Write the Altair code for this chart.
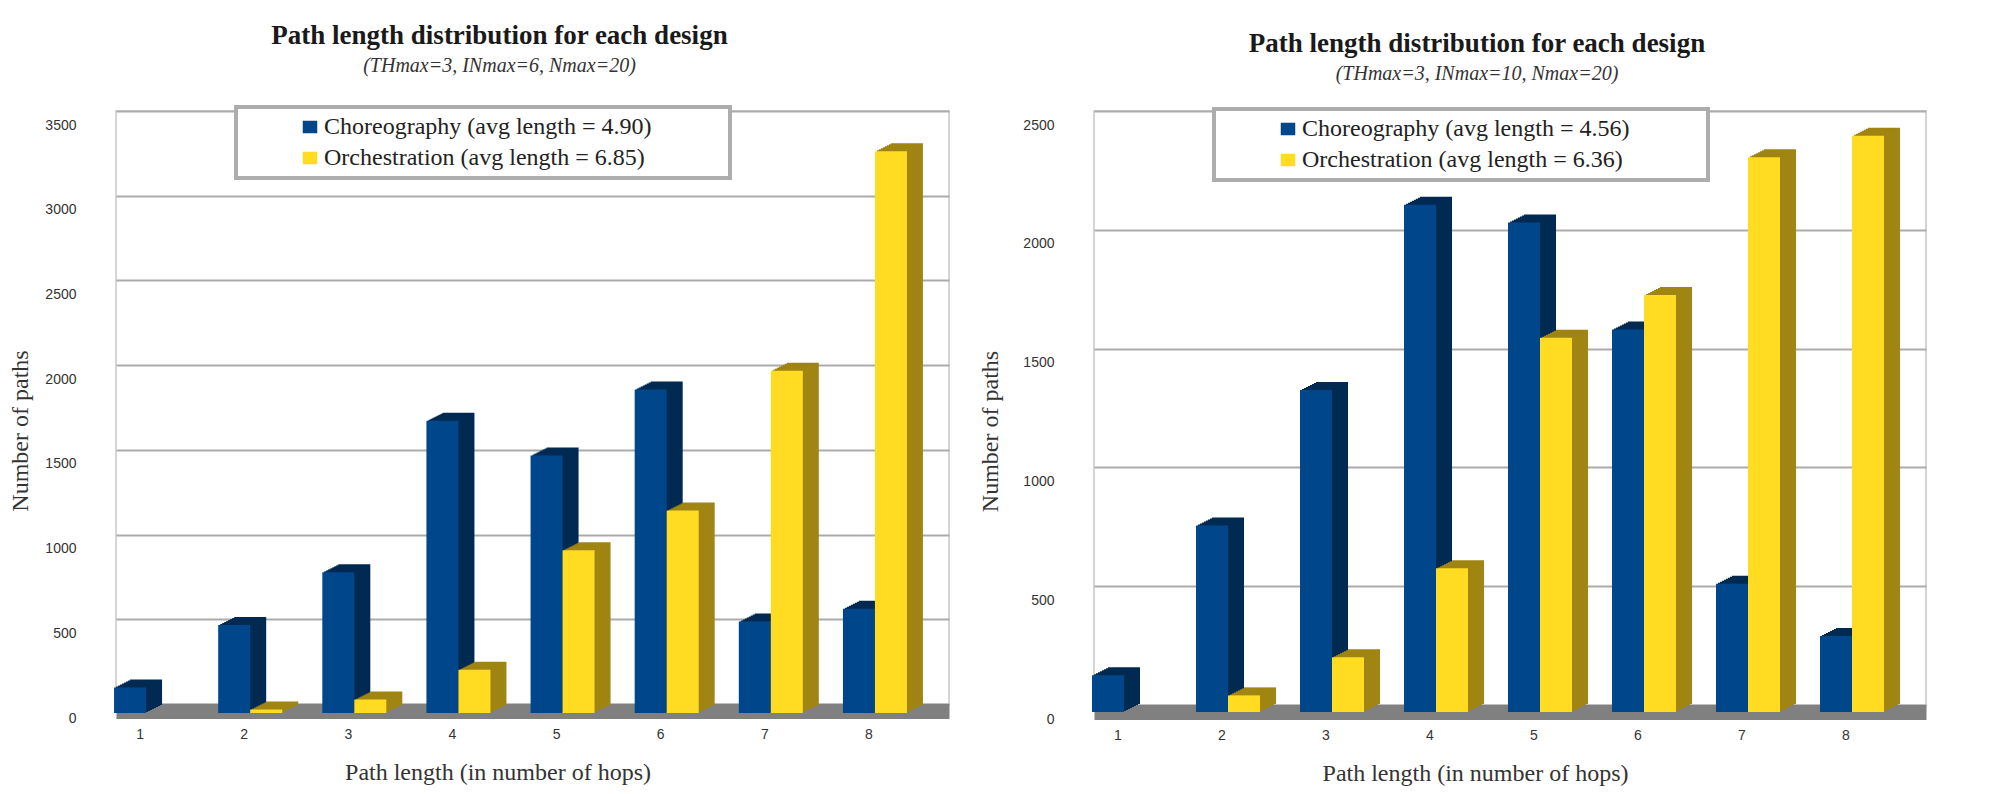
import altair as alt
import pandas as pd

# ---------------- data ----------------
hops = [1, 2, 3, 4, 5, 6, 7, 8]

left_title = "Path length distribution for each design"
left_subtitle = "(THmax=3, INmax=6, Nmax=20)"
left_series = ["Choreography (avg length = 4.90)", "Orchestration (avg length = 6.85)"]
left_choreo = [150, 520, 830, 1725, 1520, 1910, 540, 615]
left_orch = [0, 20, 80, 255, 960, 1195, 2020, 3315]
left_ticks = [0, 500, 1000, 1500, 2000, 2500, 3000, 3500]

right_title = "Path length distribution for each design"
right_subtitle = "(THmax=3, INmax=10, Nmax=20)"
right_series = ["Choreography (avg length = 4.56)", "Orchestration (avg length = 6.36)"]
right_choreo = [155, 785, 1355, 2135, 2060, 1610, 540, 320]
right_orch = [0, 70, 230, 605, 1575, 1755, 2335, 2425]
right_ticks = [0, 500, 1000, 1500, 2000, 2500]

x_title = "Path length (in number of hops)"
y_title = "Number of paths"

# ---------------- style ----------------
SERIF = "Liberation Serif"
SANS = "Liberation Sans"
BLUE, BLUE_SIDE = "#00468b", "#002a52"
YELLOW, YELLOW_SIDE = "#ffdc22", "#a08513"
BAR_W = 32
DEPTH_X, DEPTH_Y, STEPS = 16, 8, 8
# legend swatch: a 14x12 box, plus an empty sub-path that only widens the legend frame
SWATCH = "M-1,-0.85H1V0.85H-1Z M56.8,0L56.8,0"


def panel(title, subtitle, series, choreo, orch, ticks, width, height,
          title_offset, legend_y, front_drop, ytitle_pad):
    df = pd.DataFrame({
        "hops": hops * 2,
        "series": [series[0]] * len(hops) + [series[1]] * len(hops),
        "paths": choreo + orch,
    })
    base = alt.Chart(df)
    xaxis = alt.Axis(
        title=x_title, titleFont=SERIF, titleFontSize=24, titleFontWeight="normal",
        titleColor="#333", titlePadding=19, titleX=width / 2 - 35,
        labelFont=SANS, labelFontSize=14, labelColor="#333", labelAngle=0,
        labelPadding=16, labelOffset=-28, ticks=False, grid=False,
        domain=True, domainColor="#808080", domainWidth=15, offset=7, zindex=0,
    )
    yaxis = alt.Axis(
        title=y_title, titleFont=SERIF, titleFontSize=24, titleFontWeight="normal",
        titleColor="#333", titlePadding=ytitle_pad, titleY=height / 2 + 23,
        labelFont=SANS, labelFontSize=14, labelColor="#333", format="d",
        labelPadding=4, labelOffset=14, offset=36, values=ticks,
        ticks=False, domain=False, grid=True, gridColor="#ababab", gridWidth=2,
        zindex=0,
    )
    x = alt.X("hops:O", scale=alt.Scale(paddingInner=0, paddingOuter=0), axis=xaxis)
    y = alt.Y("paths:Q", scale=alt.Scale(domain=[ticks[0], ticks[-1]], nice=False), axis=yaxis)
    legend = alt.Legend(
        orient="none", legendX=120, legendY=legend_y, direction="vertical", title=None,
        padding=8, strokeColor="#adadad", fillColor="white",
        symbolType=SWATCH, symbolSize=210, symbolStrokeWidth=0,
        symbolOffset=54, labelOffset=2, rowPadding=7,
        labelFont=SERIF, labelFontSize=24, labelColor="#222", labelLimit=900,
    )
    color = alt.Color("series:N", scale=alt.Scale(domain=series, range=[BLUE, YELLOW]),
                      legend=legend)
    layers = []
    for name, cx, side in [(series[0], -38, BLUE_SIDE), (series[1], -6, YELLOW_SIDE)]:
        sub = base.transform_filter(alt.datum.series == name)
        for k in range(STEPS, 0, -1):
            dx = DEPTH_X * k / STEPS
            dy = DEPTH_Y * k / STEPS
            layers.append(
                sub.mark_bar(width=BAR_W, xOffset=cx + dx, x2Offset=cx + dx,
                             yOffset=front_drop - dy, y2Offset=front_drop - dy,
                             color=side).encode(x=x, y=y)
            )
        layers.append(
            sub.mark_bar(width=BAR_W, xOffset=cx, x2Offset=cx,
                         yOffset=front_drop, y2Offset=front_drop).encode(x=x, y=y, color=color)
        )
    return alt.layer(*layers).properties(
        width=width, height=height,
        title=alt.TitleParams(
            text=title, subtitle=subtitle, font=SERIF, fontSize=27, fontWeight="bold",
            color="#1a1a1a", subtitleFont=SERIF, subtitleFontSize=20,
            subtitleFontStyle="italic", subtitleColor="#333", subtitlePadding=6,
            anchor="middle", frame="group", dx=-33, offset=title_offset,
        ),
    )


left = panel(left_title, left_subtitle, left_series, left_choreo, left_orch, left_ticks,
             833, 593, 28, -4, 9, 12)
right = panel(right_title, right_subtitle, right_series, right_choreo, right_orch, right_ticks,
              832, 594, 22, -2, 7, 20)

chart = (
    alt.hconcat(left, right, spacing=28)
    .resolve_scale(color="independent")
    .resolve_legend(color="independent")
    .properties(padding={"left": 0, "top": 13, "right": 5, "bottom": 0})
    .configure_view(stroke="#c8c8c8", strokeWidth=1.5)
    .configure_legend(strokeWidth=4)
)

chart.save("out.html", embed_options={"renderer": "svg", "actions": False})
